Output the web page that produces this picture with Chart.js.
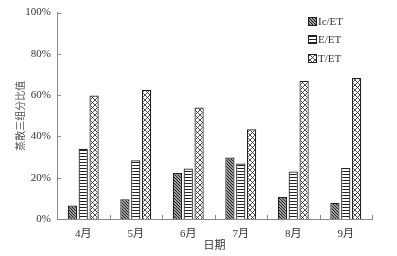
<!DOCTYPE html>
<html>
<head>
<meta charset="utf-8">
<script src="https://cdn.jsdelivr.net/npm/chart.js@4"></script>
<style>
  html, body { margin: 0; padding: 0; background: #fff; }
  #wrap { width: 397px; height: 256px; }
</style>
</head>
<body>
<div id="wrap"><canvas id="ratioChart" width="397" height="256"></canvas></div>
<script>
// data
const months = ['4月', '5月', '6月', '7月', '8月', '9月'];
const icEt = [6.5, 9.6, 22.3, 29.8, 10.7, 7.8];
const eEt = [34, 28.5, 24.5, 26.9, 23, 24.7];
const tEt = [59.8, 62.5, 54, 43.5, 67, 68.3];
const seriesNames = ['Ic/ET', 'E/ET', 'T/ET'];
const yTicks = [0, 20, 40, 60, 80, 100];

const fontFamily = "'Liberation Serif', 'Noto Sans CJK SC', serif";
const ink = '#333';
const axisGray = '#8a8a8a';

function makePattern(kind) {
    const c = document.createElement('canvas');
    const ctx = c.getContext('2d');
    const s = kind === 'cross' ? 5 : 3;
    c.width = s; c.height = s;
    ctx.fillStyle = '#fff';
    ctx.fillRect(0, 0, s, s);
    ctx.strokeStyle = '#222';
    ctx.lineWidth = 1;
    ctx.beginPath();
    if (kind === 'diag') {
        // "\" lines
        ctx.moveTo(-1, -1); ctx.lineTo(s + 1, s + 1);
        ctx.moveTo(-1 - s, -1); ctx.lineTo(1, s + 1);
        ctx.moveTo(s - 1, -1); ctx.lineTo(2 * s + 1, s + 1);
        ctx.lineWidth = 1.3;
    } else if (kind === 'horiz') {
        ctx.moveTo(0, 0.5); ctx.lineTo(s, 0.5);
    } else {
        ctx.lineWidth = 0.8;
        ctx.moveTo(0, 0); ctx.lineTo(s, s);
        ctx.moveTo(s, 0); ctx.lineTo(0, s);
    }
    ctx.stroke();
    return ctx.createPattern(c, 'repeat');
}

const patterns = [makePattern('diag'), makePattern('horiz'), makePattern('cross')];

const innerTicks = {
    id: 'innerTicks',
    afterDraw(chart) {
        const ctx = chart.ctx;
        const x = chart.scales.x, y = chart.scales.y;
        const area = chart.chartArea;
        ctx.save();
        ctx.strokeStyle = axisGray;
        ctx.lineWidth = 1;
        ctx.beginPath();
        yTicks.forEach(v => {
            const py = Math.round(y.getPixelForValue(v)) + 0.5;
            ctx.moveTo(area.left, py); ctx.lineTo(area.left + 4, py);
        });
        const step = x.getPixelForValue(1) - x.getPixelForValue(0);
        for (let i = 0; i <= months.length; i++) {
            const px = Math.round(x.getPixelForValue(i) - step / 2) + 0.5;
            ctx.moveTo(px, area.bottom); ctx.lineTo(px, area.bottom - 4);
        }
        ctx.stroke();

        // legend
        ctx.font = '11px ' + fontFamily;
        ctx.textBaseline = 'middle';
        ctx.textAlign = 'left';
        const lx = 308, rows = [21, 39, 58];
        seriesNames.forEach((name, i) => {
            ctx.fillStyle = patterns[i];
            ctx.fillRect(lx, rows[i] - 4, 9, 9);
            ctx.strokeStyle = '#222';
            ctx.strokeRect(lx + 0.5, rows[i] - 3.5, 8, 8);
            ctx.fillStyle = ink;
            ctx.fillText(name, lx + 10, rows[i] + 1);
        });
        ctx.restore();
    }
};

const ctx = document.getElementById('ratioChart').getContext('2d');
new Chart(ctx, {
    type: 'bar',
    data: {
        labels: months,
        datasets: [icEt, eEt, tEt].map((vals, i) => ({
            label: seriesNames[i],
            data: vals,
            backgroundColor: patterns[i],
            borderColor: '#222',
            borderWidth: 1.2,
            barPercentage: 0.85,
            categoryPercentage: 0.62
        }))
    },
    options: {
        responsive: false,
        animation: false,
        layout: { padding: { left: 0, right: 25, top: 11, bottom: 0 } },
        plugins: { legend: { display: false }, tooltip: { enabled: false } },
        scales: {
            x: {
                grid: { display: false, drawTicks: false },
                border: { color: axisGray, width: 1 },
                ticks: { color: ink, padding: 9, font: { family: fontFamily, size: 11 } },
                title: { display: true, text: '日期', color: ink, padding: { top: 0, bottom: 3 },
                         font: { family: fontFamily, size: 11 } },
                afterFit(scale) { scale.height = 37; }
            },
            y: {
                min: 0, max: 100,
                grid: { display: false, drawTicks: false },
                border: { color: axisGray, width: 1 },
                afterBuildTicks(scale) { scale.ticks = yTicks.map(v => ({ value: v })); },
                ticks: {
                    color: ink, padding: 6,
                    font: { family: fontFamily, size: 11 },
                    callback: v => v + '%'
                },
                title: { display: true, text: '蒸散三组分比值', color: '#555', padding: { top: 15, bottom: 0 },
                         font: { family: fontFamily, size: 10 } },
                afterFit(scale) { scale.width = 57; }
            }
        }
    },
    plugins: [innerTicks]
});
</script>
</body>
</html>
